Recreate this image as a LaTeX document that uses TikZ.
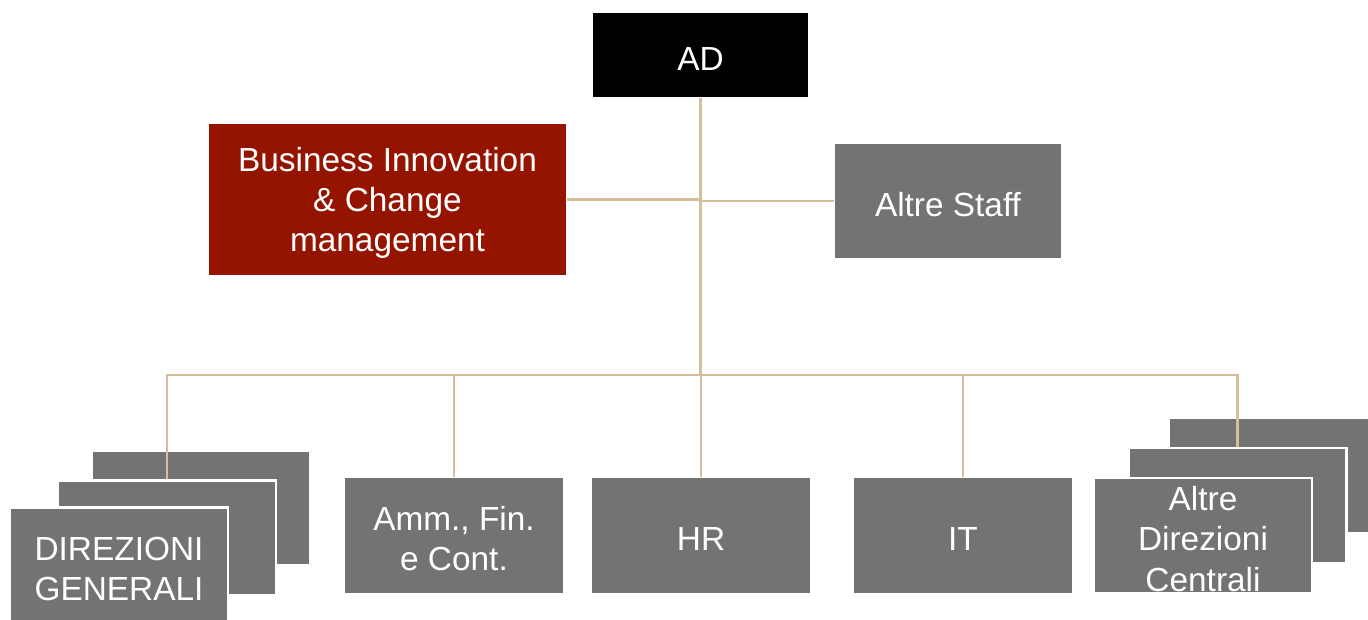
\documentclass[tikz,border=0pt]{standalone}
\usepackage{fontspec}
\setmainfont{Liberation Sans}
\definecolor{boxgray}{RGB}{115,115,115}
\definecolor{boxred}{RGB}{148,20,0}
\definecolor{linktan}{RGB}{212,191,154}
\newcommand{\topstrut}{\rule{0pt}{17.5pt}}

\begin{document}
\begin{tikzpicture}[unit/.style={minimum width=4.36cm,minimum height=2.3cm,fill=boxgray,draw=white,line width=1.2pt,text=white,align=center,font=\fontsize{19}{23}\selectfont,inner sep=0pt},
                    link/.style={draw=linktan, line width=1.2pt}]
  \useasboundingbox (0, 0) rectangle (27.36, -12.38);

  \node[unit, fill=black, draw=none, minimum width=4.3cm, minimum height=1.68cm] (ad) at (14.01, -1.1) {\topstrut AD};
  \node[unit, fill=boxred, draw=none, minimum width=7.14cm, minimum height=3.02cm] (innovation) at (7.75, -3.99) {\topstrut Business Innovation\\ \& Change\\ management};
  \node[unit, draw=none, minimum width=4.52cm, minimum height=2.28cm] (staff) at (18.96, -4.02) {\topstrut Altre Staff};

  % stacked units
  \node[unit] (dirgen back) at (4.02, -10.16) {};
  \node[unit] (dirgen mid) at (3.34, -10.76) {};
  \node[unit] (dirgen) at (2.38, -11.3) {\topstrut DIREZIONI\\ GENERALI};

  \node[unit, draw=none] (amm) at (9.08, -10.71) {\topstrut Amm., Fin.\\ e Cont.};
  \node[unit, draw=none] (hr) at (14.02, -10.71) {\topstrut HR};
  \node[unit, draw=none] (it) at (19.26, -10.71) {\topstrut IT};

  \node[unit] (altredir back) at (25.56, -9.51) {};
  \node[unit] (altredir mid) at (24.75, -10.11) {};
  \node[unit] (altredir) at (24.06, -10.71) {\topstrut Altre\\ Direzioni\\ Centrali};

  \coordinate (bus) at (14.01, -7.5);

  \path[link] (ad.south) edge (bus);
  \path[link] (innovation.east) edge (innovation.east -| ad.south);
  \path[link] (staff.west) edge (staff.west -| ad.south);
  \draw[link] (dirgen mid.north) |- (bus) -| (altredir mid.north);
  \path[link] (amm.north) edge (amm.north |- bus);
  \path[link] (hr.north) edge (hr.north |- bus);
  \path[link] (it.north) edge (it.north |- bus);
\end{tikzpicture}
\end{document}
